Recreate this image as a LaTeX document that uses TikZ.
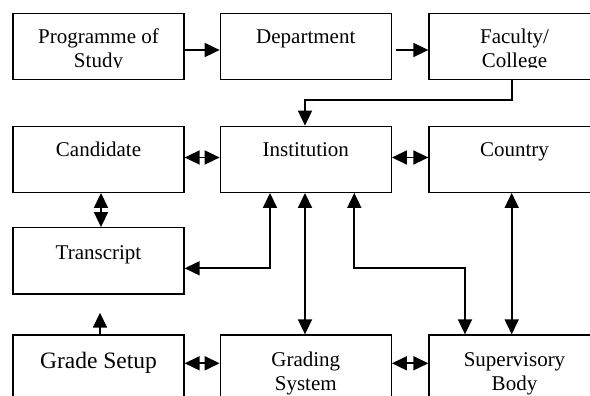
\documentclass[tikz,border=0pt]{standalone}
\usepackage{fontspec}
\setmainfont{Liberation Serif}
\usetikzlibrary{arrows.meta}
\tikzset{
  box/.style={draw, line width=1.3pt, minimum width=171pt, minimum height=66pt, inner sep=0pt, fill=none},
  txt/.style={inner sep=0pt, anchor=base, font=\fontsize{21}{24}\selectfont},
  conn/.style={line width=1.7pt},
  arr/.style={conn, -{Triangle[length=15pt,width=14pt]}},
  darr/.style={conn, {Triangle[length=15pt,width=14pt]}-{Triangle[length=15pt,width=14pt]}},
}
\newcommand{\twol}[2]{\begin{tabular}[t]{@{}c@{}}#1\\#2\end{tabular}}
\begin{document}
\begin{tikzpicture}[x=1pt,y=-1pt]
\clip (0,0) rectangle (590,396);
\fill[white] (0,0) rectangle (590,396);
% boxes
\node[box] (prog)  at (98.5,46.3)  {};
\node[box] (dept)  at (305.8,46.3) {};
\node[box] (fac)   at (514.5,46.3) {};
\node[box] (cand)  at (98.5,159.3) {};
\node[box] (inst)  at (305.8,159.3) {};
\node[box] (ctry)  at (514.5,159.3) {};
\node[box, minimum height=66.3pt] (trans) at (98.5,260.9) {};
\node[box] (grade) at (98.5,368) {};
\node[box] (grsys) at (305.8,368) {};
\node[box] (sup)   at (514.5,368) {};
% texts (top row clipped inside the boxes)
\begin{scope}
\clip (0,13) rectangle (590,68);
\node[txt] (tprog) at (98.5,43.3) {\twol{Programme of}{Study}};
\node[txt] (tdept) at (305.8,43.3) {Department};
\node[txt] (tfac)  at (514.5,43.3) {\twol{Faculty/}{College}};
\end{scope}
\node[txt] (tcand)  at (98.5,156.7)  {Candidate};
\node[txt] (tinst)  at (305.8,156.7) {Institution};
\node[txt] (tctry)  at (514.5,156.7) {Country};
\node[txt] (ttrans) at (98.5,259)    {Transcript};
\node[txt, font=\fontsize{23.5}{26}\selectfont] (tgrade) at (98.5,368) {Grade Setup};
\node[txt] (tgrsys) at (305.8,366) {\twol{Grading}{System}};
\node[txt] (tsup)   at (514.5,366) {\twol{Supervisory}{Body}};
% helper coordinates
\coordinate (h1) at (0,50);
\coordinate (h2) at (0,157.5);
\coordinate (h4) at (0,363.3);
\coordinate (dstart) at (396,50);
\coordinate (f1) at (511.7,100);
\coordinate (f2) at (305,100);
\coordinate (vct) at (101,0);
\coordinate (t1) at (270,268.3);
\coordinate (s1) at (354.3,267.7);
\coordinate (s2) at (465,267.7);
\coordinate (gtip) at (100,312.7);
\coordinate (vcs) at (511.7,0);
% connectors
\draw[arr] (prog.east |- h1) -- (dept.west |- h1);
\draw[arr] (dstart) -- (fac.west |- h1);
\draw[arr] (fac.south -| f1) -- (f1) -- (f2) -- (inst.north -| f2);
\draw[darr] (cand.east |- h2) -- (inst.west |- h2);
\draw[darr] (inst.east |- h2) -- (ctry.west |- h2);
\draw[darr] (cand.south -| vct) -- (trans.north -| vct);
\draw[darr] (inst.south -| t1) -- (t1) -- (trans.east |- t1);
\draw[arr] (grade.north -| gtip) -- (gtip);
\draw[darr] (inst.south -| f2) -- (grsys.north -| f2);
\draw[darr] (inst.south -| s1) -- (s1) -- (s2) -- (sup.north -| s2);
\draw[darr] (ctry.south -| vcs) -- (sup.north -| vcs);
\draw[darr] (grade.east |- h4) -- (grsys.west |- h4);
\draw[darr] (grsys.east |- h4) -- (sup.west |- h4);
\end{tikzpicture}
\end{document}
